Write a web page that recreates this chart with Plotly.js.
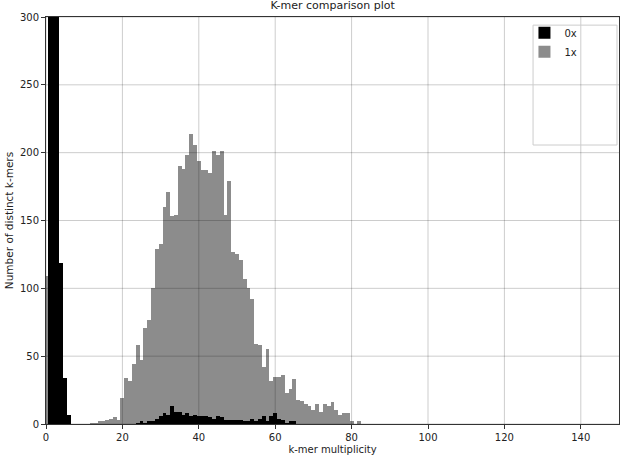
<!DOCTYPE html>
<html>
<head>
<meta charset="utf-8">
<script src="https://cdn.plot.ly/plotly-3.0.1.min.js"></script>
<style>html,body{margin:0;padding:0;background:#fff;}#chart{width:623px;height:459px;}</style>
</head>
<body>
<div id="chart"></div>
<script>
// k-mer multiplicity bins 0..83
const multiplicity = Array.from({length: 84}, (_, i) => i);

// "0x" series (black), counts per multiplicity (bins 1-3 exceed the 300 axis limit)
const counts0x = [
  0, 2400, 1100, 480, 119, 34, 7, 0, 0, 0,
  0, 0, 0, 0, 0, 0, 0, 0, 0, 0,
  0, 0, 0, 0, 1, 2, 1, 2, 2, 4,
  6, 8, 7, 13, 9, 9, 7, 8, 6, 7,
  6, 6, 6, 5, 4, 6, 5, 3, 3, 3,
  3, 3, 2, 2, 4, 2, 4, 6, 2, 6,
  8, 4, 3, 1, 2, 2, 0, 0, 0, 0,
  0, 0, 0, 0, 0, 0, 0, 0, 0, 0,
  0, 0, 0, 0
];

// "1x" series (grey), stacked on top of "0x"
const counts1x = [
  109, 0, 0, 0, 0, 0, 0, 0, 0, 0,
  0, 0, 1, 1, 2, 2, 3, 4, 5, 3,
  19, 34, 32, 44, 57, 45, 70, 75, 98, 125,
  127, 152, 164, 140, 145, 181, 181, 190, 208, 199,
  188, 181, 181, 180, 197, 192, 196, 151, 176, 124,
  122, 118, 105, 98, 88, 57, 54, 36, 53, 26,
  27, 31, 33, 22, 24, 31, 18, 17, 15, 13,
  10, 15, 9, 15, 13, 16, 10, 7, 8, 8,
  2, 0, 2, 0
];

const xTicks = [0, 20, 40, 60, 80, 100, 120, 140];
const yTicks = [0, 50, 100, 150, 200, 250, 300];
const seriesNames = ['0x', '1x'];
const seriesColors = ['#000000', '#8c8c8c'];

const traces = [counts0x, counts1x].map((vals, k) => ({
  type: 'bar',
  x: multiplicity,
  y: vals,
  name: seriesNames[k],
  marker: {color: seriesColors[k], line: {width: 0}},
  width: 1,
  hoverinfo: 'x+y+name'
}));

const gridColor = 'rgba(0,0,0,0.2)';
const shapes = [];
xTicks.forEach(v => shapes.push({type: 'line', xref: 'x', yref: 'paper', x0: v, x1: v, y0: 0, y1: 1, layer: 'above', line: {color: gridColor, width: 1}}));
yTicks.forEach(v => shapes.push({type: 'line', xref: 'paper', yref: 'y', x0: 0, x1: 1, y0: v, y1: v, layer: 'above', line: {color: gridColor, width: 1}}));
// legend frame
shapes.push({type: 'rect', xref: 'paper', yref: 'paper', x0: 0.85, x1: 0.9965, y0: 0.6855, y1: 0.98, layer: 'above', fillcolor: 'rgba(255,255,255,0)', line: {color: '#cccccc', width: 1}});

const font = {family: 'DejaVu Sans, sans-serif', size: 10, color: '#222'};

const layout = {
  width: 623,
  height: 459,
  margin: {l: 46, r: 4, t: 17, b: 35, pad: 0},
  paper_bgcolor: '#ffffff',
  plot_bgcolor: '#ffffff',
  font: font,
  barmode: 'stack',
  bargap: 0,
  showlegend: true,
  title: {text: 'K-mer comparison plot', font: {family: 'DejaVu Sans, sans-serif', size: 11, color: '#222'}, x: 0.534, xref: 'container', y: 0.988, yref: 'container', yanchor: 'middle'},
  xaxis: {
    range: [0, 150],
    tickvals: xTicks,
    ticktext: xTicks.map(String),
    showgrid: false,
    zeroline: false,
    showline: true,
    mirror: true,
    linecolor: '#333',
    linewidth: 1,
    ticks: 'outside',
    ticklen: 4,
    tickcolor: '#333',
    tickfont: font,
    title: {text: 'k-mer multiplicity', font: font, standoff: 3}
  },
  yaxis: {
    range: [0, 300],
    tickvals: yTicks,
    ticktext: yTicks.map(String),
    showgrid: false,
    zeroline: false,
    showline: true,
    mirror: true,
    linecolor: '#333',
    linewidth: 1,
    ticks: 'outside',
    ticklen: 4,
    tickcolor: '#333',
    tickfont: font,
    title: {text: 'Number of distinct k-mers', font: {family: 'DejaVu Sans, sans-serif', size: 10.5, color: '#222'}, standoff: 4}
  },
  legend: {
    x: 0.835, y: 0.997, xanchor: 'left', yanchor: 'top',
    bgcolor: 'rgba(0,0,0,0)', borderwidth: 0,
    font: font,
    tracegroupgap: 0,
    itemwidth: 30,
    traceorder: 'normal'
  },
  shapes: shapes
};

Plotly.newPlot('chart', traces, layout, {displayModeBar: false, staticPlot: true});
</script>
</body>
</html>
